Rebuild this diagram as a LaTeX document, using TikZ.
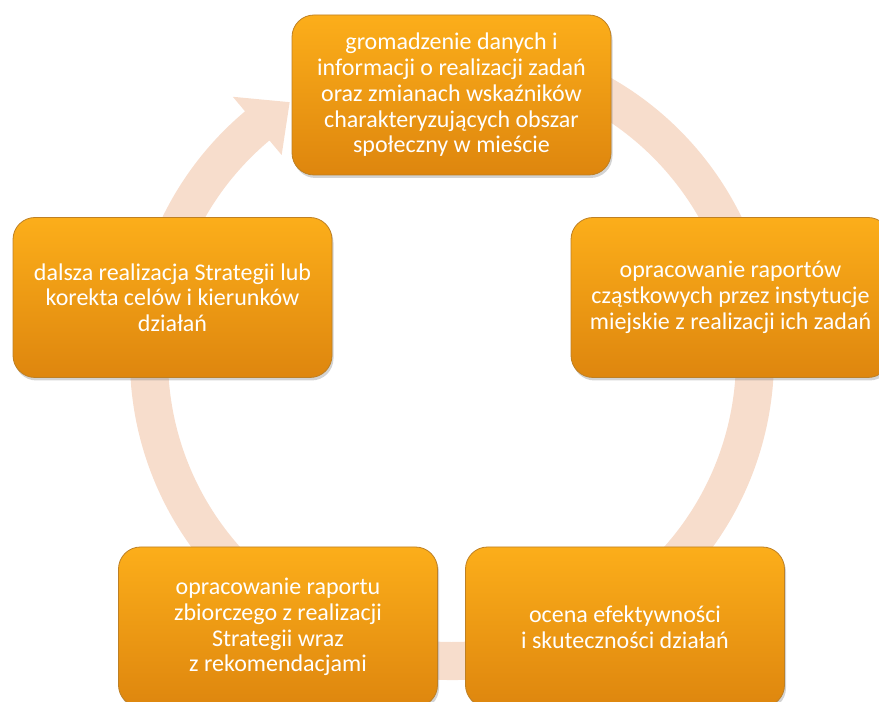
\documentclass[tikz,border=0pt]{standalone}
\usepackage{fontspec}
\setmainfont{Carlito}
\usetikzlibrary{shadows}
\definecolor{brzoskwinia}{RGB}{247,221,204}
\definecolor{pomaranczG}{RGB}{252,174,26}
\definecolor{pomaranczD}{RGB}{222,134,14}
\definecolor{obrys}{RGB}{190,128,36}
\begin{document}
\begin{tikzpicture}[x=1pt,y=1pt,line join=round,
    etap/.style={rectangle,rounded corners=22pt,minimum width=319pt,minimum height=160pt,
        top color=pomaranczG,bottom color=pomaranczD,draw=obrys,line width=0.8pt,
        drop shadow={shadow xshift=1.5pt,shadow yshift=-3pt,opacity=0.35},
        text=white,align=center,font=\fontsize{24}{25.7}\selectfont}]
    \useasboundingbox (0,0) rectangle (879,702);
    % pierscien ze strzalka
    \coordinate (S) at (452,344);
    \fill[brzoskwinia] ([shift={(80:322)}]S) arc[start angle=80,end angle=-230,radius=322]
        -- ([shift={(-230:341)}]S) -- ([shift={(-237.6:303)}]S) -- ([shift={(-230:265)}]S)
        -- ([shift={(-230:284)}]S) arc[start angle=-230,end angle=80,radius=284] -- cycle;
    % etapy
    \node[etap] (gromadzenie) at (451.5,607) {gromadzenie danych i\\informacji o realizacji zadań\\oraz zmianach wskaźników\\charakteryzujących obszar\\społeczny w mieście};
    \node[etap] (czastkowe) at (730.5,404.5) {opracowanie raportów\\cząstkowych przez instytucje\\miejskie z realizacji ich zadań};
    \node[etap] (ocena) at (625,75) {ocena efektywności\\i skuteczności działań};
    \node[etap] (zbiorczy) at (278,75) {opracowanie raportu\\zbiorczego z realizacji\\Strategii wraz\\z rekomendacjami};
    \node[etap] (korekta) at (172.5,404.5) {dalsza realizacja Strategii lub\\korekta celów i kierunków\\działań};
\end{tikzpicture}
\end{document}
